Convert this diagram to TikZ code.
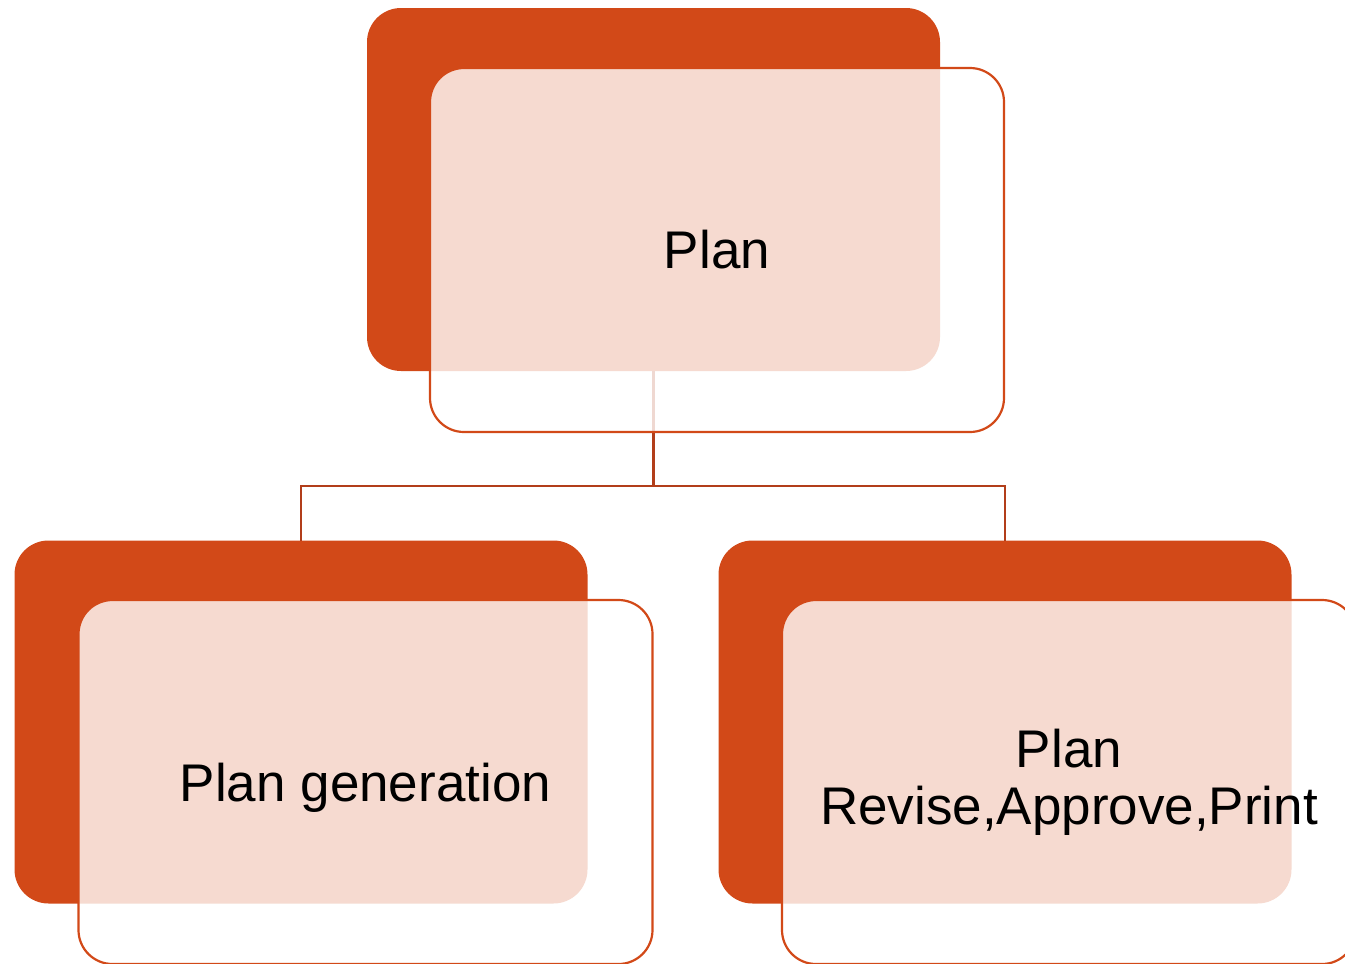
\documentclass[tikz,border=0pt]{standalone}
\usepackage{fontspec}
\setmainfont{Liberation Sans}
\definecolor{accent}{RGB}{210,73,24}
\definecolor{connclr}{RGB}{178,62,26}
\begin{document}
\begin{tikzpicture}[x=1pt,y=-1pt,
  backbox/.style={rectangle,fill=accent,draw=none,rounded corners=34pt,
    minimum width=573pt,minimum height=363pt,inner sep=0pt,outer sep=0pt},
  frontbox/.style={rectangle,fill=white,fill opacity=0.8,text opacity=1,
    draw=accent,draw opacity=1,line width=2.2pt,rounded corners=34pt,
    minimum width=574pt,minimum height=364pt,inner sep=0pt,outer sep=0pt,
    align=center,font=\fontsize{53}{57}\selectfont},
  conn/.style={draw=connclr,line width=2.2pt}]
\useasboundingbox (0,0) rectangle (1345,964);
% back boxes
\node[backbox] (tback) at (653.5,189.5) {};
\node[backbox] (lback) at (301,722) {};
\node[backbox] (rback) at (1005,722) {};
% connectors
\coordinate (j) at (653.5,486);
\draw[conn] (tback.south) -- (j);
\draw[conn] (lback.north) |- (j) -| (rback.north);
% front boxes
\node[frontbox] (tfront) at (717,250) {Plan};
\node[frontbox,text depth=0pt] (lfront) at (365.5,782) {Plan generation};
\node[frontbox] (rfront) at (1069,782) {Plan\\Revise,Approve,Print};
\end{tikzpicture}
\end{document}
